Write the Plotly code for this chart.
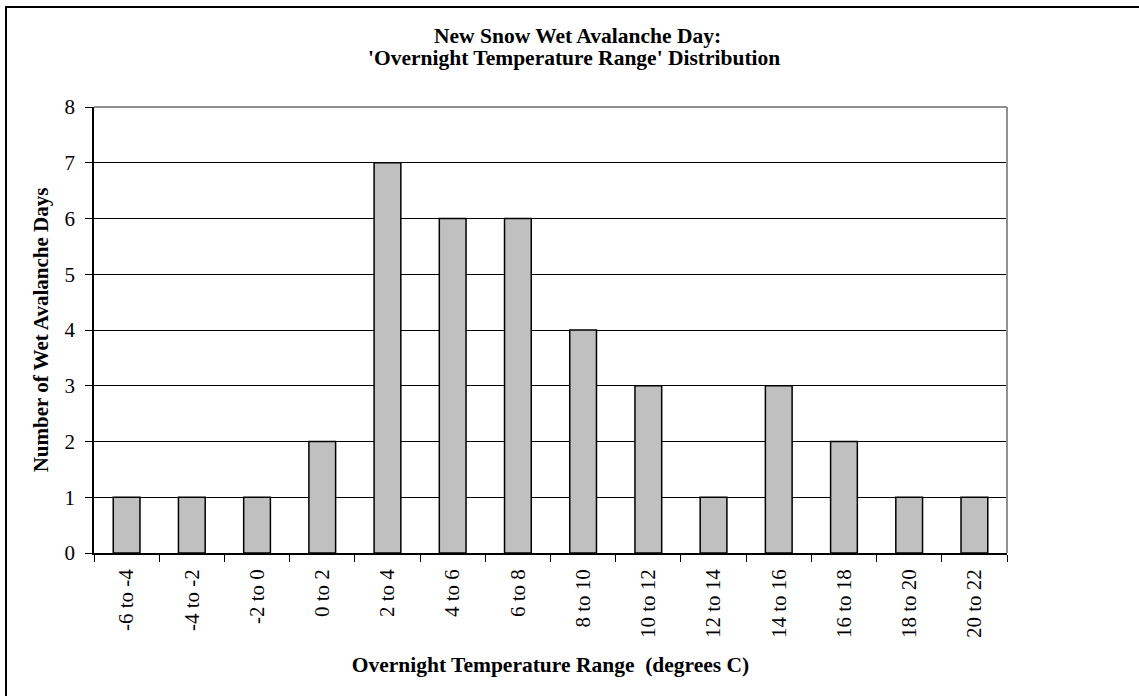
import plotly.graph_objects as go

# Overnight temperature range bins (degrees C) and wet avalanche day counts
temp_ranges = ["-6 to -4", "-4 to -2", "-2 to 0", "0 to 2", "2 to 4", "4 to 6",
               "6 to 8", "8 to 10", "10 to 12", "12 to 14", "14 to 16",
               "16 to 18", "18 to 20", "20 to 22"]
avalanche_days = [1, 1, 1, 2, 7, 6, 6, 4, 3, 1, 3, 2, 1, 1]
y_ticks = [0, 1, 2, 3, 4, 5, 6, 7, 8]

W, H = 1139, 696
L, R, T, B = 94, 132, 107, 143
pw, ph = W - L - R, H - T - B

def px_x(x):
    return (x - L) / pw

def px_y(y):
    return (H - B - y) / ph

serif = "Liberation Serif"

fig = go.Figure(
    go.Bar(
        x=temp_ranges,
        y=avalanche_days,
        marker=dict(color="#C0C0C0", line=dict(color="#000000", width=1.5)),
        width=0.41,
        hoverinfo="x+y",
    )
)

fig.update_layout(
    width=W,
    height=H,
    margin=dict(l=L, r=R, t=T, b=B, pad=0),
    paper_bgcolor="white",
    plot_bgcolor="white",
    showlegend=False,
    font=dict(family=serif, size=21, color="#000000"),
    xaxis=dict(
        type="category",
        tickangle=-90,
        tickson="boundaries",
        ticks="outside",
        ticklen=7,
        tickwidth=1,
        tickcolor="#000000",
        showline=True,
        linecolor="#000000",
        linewidth=1.5,
        showgrid=False,
        tickfont=dict(family=serif, size=21),
        ticklabelstandoff=6,
        title=dict(
            text="<b>Overnight Temperature Range  (degrees C)</b>",
            font=dict(family=serif, size=21.5),
            standoff=20,
        ),
    ),
    yaxis=dict(
        range=[0, 8],
        tickvals=y_ticks,
        ticks="outside",
        ticklen=7,
        tickwidth=1,
        tickcolor="#000000",
        showline=True,
        linecolor="#000000",
        linewidth=1.5,
        showgrid=True,
        gridcolor="#000000",
        gridwidth=1,
        zeroline=False,
        tickfont=dict(family=serif, size=21),
        ticklabelstandoff=6,
        title=dict(
            text="<b>Number of Wet Avalanche Days</b>",
            font=dict(family=serif, size=21),
            standoff=10,
        ),
    ),
    shapes=[
        # outer chart border
        dict(type="rect", xref="paper", yref="paper",
             x0=px_x(6), x1=px_x(1145), y0=px_y(712), y1=px_y(7),
             line=dict(color="#000000", width=2), layer="below"),
        # grey plot-area frame along top and right
        dict(type="line", xref="paper", yref="paper",
             x0=0, x1=1, y0=1, y1=1,
             line=dict(color="#909090", width=2), layer="above"),
        dict(type="line", xref="paper", yref="paper",
             x0=1, x1=1, y0=0, y1=1,
             line=dict(color="#909090", width=2), layer="above"),
    ],
    annotations=[
        dict(text="<b>New Snow Wet Avalanche Day:</b>", xref="paper", yref="paper",
             x=px_x(577), y=px_y(36), showarrow=False,
             font=dict(family=serif, size=21.5), xanchor="center", yanchor="middle"),
        dict(text="<b>'Overnight Temperature Range' Distribution</b>", xref="paper",
             yref="paper", x=px_x(574), y=px_y(58), showarrow=False,
             font=dict(family=serif, size=21.5), xanchor="center", yanchor="middle"),
    ],
)

fig.write_html("out.html")
